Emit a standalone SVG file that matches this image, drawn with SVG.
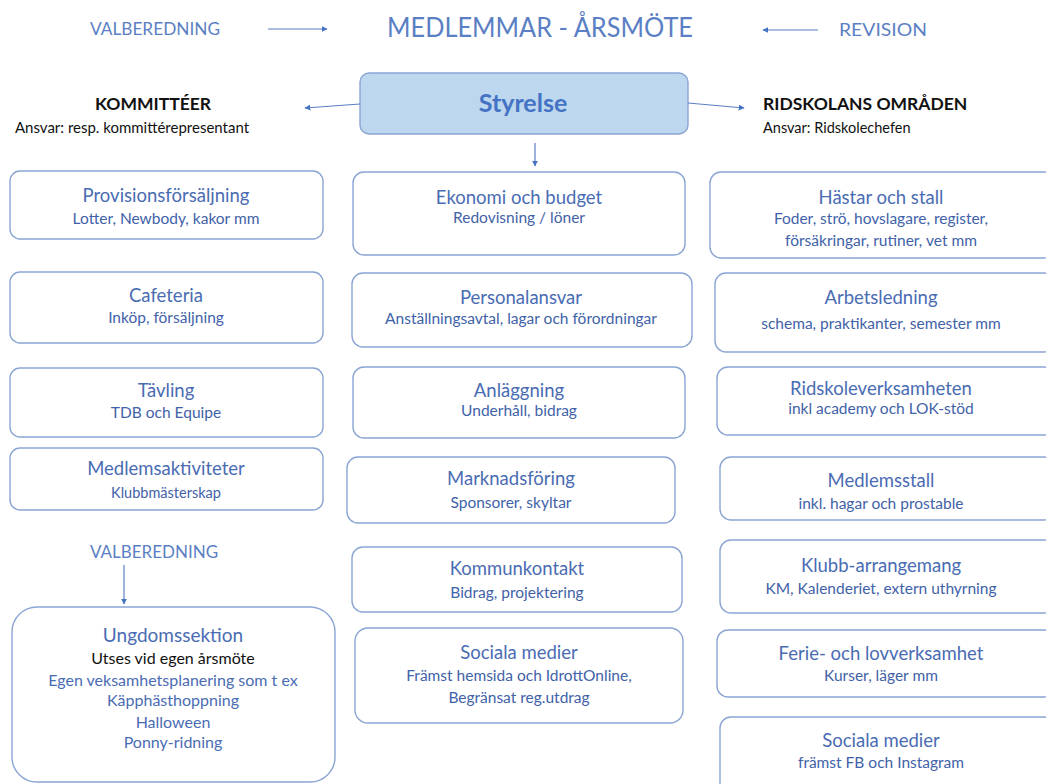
<svg xmlns="http://www.w3.org/2000/svg" width="1046" height="784" viewBox="0 0 1046 784">
<defs>
<marker id="ah" viewBox="0 0 10 10" refX="9" refY="5" markerWidth="6" markerHeight="6" orient="auto" markerUnits="userSpaceOnUse">
<path d="M0,0 L10,5 L0,10 z" fill="#4472C4"/>
</marker>
</defs>
<style>
text{font-family:Lato,"Open Sans","Liberation Sans",sans-serif;text-anchor:middle}
.box{fill:#ffffff;stroke:#8ba5d3;stroke-width:1.4}
.styr{fill:#bdd7ee;stroke:#8ba5d3;stroke-width:1.4}
.t{font-size:18.5px;fill:#4a6cb3}
.s{font-size:15.5px;fill:#3f62a8}
.hdr{font-size:17px;fill:#5b7fc4}
.blk{fill:#111111}
.con{stroke:#5a7fc2;stroke-width:1.2;fill:none;marker-end:url(#ah)}
</style>
<rect width="1046" height="784" fill="#ffffff"/>

<g id="header">
<text x="155" y="35" class="hdr" textLength="130" lengthAdjust="spacingAndGlyphs">VALBEREDNING</text>
<text x="540" y="37" class="hdr" style="font-size:26px" textLength="306" lengthAdjust="spacingAndGlyphs">MEDLEMMAR - ÅRSMÖTE</text>
<text x="883" y="36" class="hdr" textLength="88" lengthAdjust="spacingAndGlyphs">REVISION</text>
</g>

<g id="styrelse">
<rect x="360" y="73" width="328" height="61" rx="9" class="styr"/>
<text x="523" y="112" style="font-size:25px;font-weight:bold;fill:#4472C4">Styrelse</text>
</g>

<g id="kommitteer">
<text x="153" y="110" class="blk" style="font-size:17.5px;font-weight:bold">KOMMITTÉER</text>
<text x="132" y="133" class="blk" style="font-size:15px">Ansvar: resp. kommittérepresentant</text>
</g>

<g id="ridskolans">
<text x="763" y="110" class="blk" style="font-size:17.5px;font-weight:bold;text-anchor:start">RIDSKOLANS OMRÅDEN</text>
<text x="763" y="133" class="blk" style="font-size:14.5px;text-anchor:start">Ansvar: Ridskolechefen</text>
</g>

<g id="connectors">
<line x1="268" y1="29" x2="327" y2="29" class="con"/>
<line x1="818" y1="30" x2="763" y2="30" class="con"/>
<line x1="360" y1="104" x2="305" y2="108" class="con"/>
<line x1="688" y1="103" x2="744" y2="108" class="con"/>
<line x1="535" y1="143" x2="535" y2="166" class="con"/>
<line x1="124" y1="565" x2="124" y2="604" class="con"/>
</g>

<g id="provisionsforsaljning">
<rect x="10" y="171" width="313" height="68" rx="10" class="box"/>
<text x="166" y="201.5" class="t">Provisionsförsäljning</text>
<text x="166" y="223.5" class="s">Lotter, Newbody, kakor mm</text>
</g>
<g id="cafeteria">
<rect x="10" y="272" width="313" height="71" rx="10" class="box"/>
<text x="166" y="301.5" class="t">Cafeteria</text>
<text x="166" y="323" class="s">Inköp, försäljning</text>
</g>
<g id="tavling">
<rect x="10" y="368" width="313" height="69" rx="10" class="box"/>
<text x="166" y="396.5" class="t">Tävling</text>
<text x="166" y="417.5" class="s">TDB och Equipe</text>
</g>
<g id="medlemsaktiviteter">
<rect x="10" y="448" width="313" height="62" rx="10" class="box"/>
<text x="166" y="475" class="t">Medlemsaktiviteter</text>
<text x="166" y="498" class="s" style="font-size:14.5px">Klubbmästerskap</text>
</g>
<g id="valberedning2">
<text x="154" y="558" class="hdr" style="font-size:17px">VALBEREDNING</text>
</g>
<g id="ungdomssektion">
<rect x="12" y="607" width="323" height="175" rx="25" class="box"/>
<text x="173" y="641.5" class="t" style="font-size:19px">Ungdomssektion</text>
<text x="173" y="664" class="blk" style="font-size:16px">Utses vid egen årsmöte</text>
<text x="173" y="686" class="t" style="font-size:16px">Egen veksamhetsplanering som t ex</text>
<text x="173" y="706" class="t" style="font-size:16px">Käpphästhoppning</text>
<text x="173" y="728" class="t" style="font-size:16px">Halloween</text>
<text x="173" y="748" class="t" style="font-size:16px">Ponny-ridning</text>
</g>

<g id="ekonomi">
<rect x="353" y="172" width="332" height="83" rx="11" class="box"/>
<text x="519" y="203.5" class="t">Ekonomi och budget</text>
<text x="519" y="222.5" class="s">Redovisning / löner</text>
</g>
<g id="personalansvar">
<rect x="352" y="273" width="340" height="74" rx="11" class="box"/>
<text x="521" y="303.5" class="t">Personalansvar</text>
<text x="521" y="323.5" class="s">Anställningsavtal, lagar och förordningar</text>
</g>
<g id="anlaggning">
<rect x="353" y="367" width="332" height="71" rx="11" class="box"/>
<text x="519" y="396.5" class="t">Anläggning</text>
<text x="519" y="415.5" class="s">Underhåll, bidrag</text>
</g>
<g id="marknadsforing">
<rect x="347" y="457" width="328" height="66" rx="11" class="box"/>
<text x="511" y="484.5" class="t">Marknadsföring</text>
<text x="511" y="507.5" class="s">Sponsorer, skyltar</text>
</g>
<g id="kommunkontakt">
<rect x="352" y="547" width="330" height="65" rx="11" class="box"/>
<text x="517" y="574.5" class="t">Kommunkontakt</text>
<text x="517" y="597.5" class="s">Bidrag, projektering</text>
</g>
<g id="sociala1">
<rect x="355" y="628" width="328" height="95" rx="13" class="box"/>
<text x="519" y="658.5" class="t">Sociala medier</text>
<text x="519" y="680.5" class="s">Främst hemsida och IdrottOnline,</text>
<text x="519" y="702.5" class="s">Begränsat reg.utdrag</text>
</g>

<g id="hastar">
<rect x="710" y="172" width="345" height="86" rx="11" class="box"/>
<text x="881" y="203.5" class="t">Hästar och stall</text>
<text x="881" y="223.5" class="s">Foder, strö, hovslagare, register,</text>
<text x="881" y="245.5" class="s">försäkringar, rutiner, vet mm</text>
</g>
<g id="arbetsledning">
<rect x="715" y="273" width="340" height="79" rx="11" class="box"/>
<text x="881" y="303.5" class="t">Arbetsledning</text>
<text x="881" y="328.5" class="s">schema, praktikanter, semester mm</text>
</g>
<g id="ridskoleverksamheten">
<rect x="717" y="367" width="338" height="68" rx="11" class="box"/>
<text x="881" y="394.5" class="t">Ridskoleverksamheten</text>
<text x="881" y="413.5" class="s">inkl academy och LOK-stöd</text>
</g>
<g id="medlemsstall">
<rect x="720" y="457" width="335" height="63" rx="11" class="box"/>
<text x="881" y="486.5" class="t">Medlemsstall</text>
<text x="881" y="508.5" class="s">inkl. hagar och prostable</text>
</g>
<g id="klubbarrangemang">
<rect x="720" y="540" width="335" height="73" rx="11" class="box"/>
<text x="881" y="571.5" class="t">Klubb-arrangemang</text>
<text x="881" y="593.5" class="s">KM, Kalenderiet, extern uthyrning</text>
</g>
<g id="ferie">
<rect x="717" y="630" width="338" height="67" rx="11" class="box"/>
<text x="881" y="659.5" class="t">Ferie- och lovverksamhet</text>
<text x="881" y="680.5" class="s">Kurser, läger mm</text>
</g>
<g id="sociala2">
<rect x="720" y="717" width="335" height="80" rx="11" class="box"/>
<text x="881" y="746.5" class="t">Sociala medier</text>
<text x="881" y="767.5" class="s">främst FB och Instagram</text>
</g>
</svg>
